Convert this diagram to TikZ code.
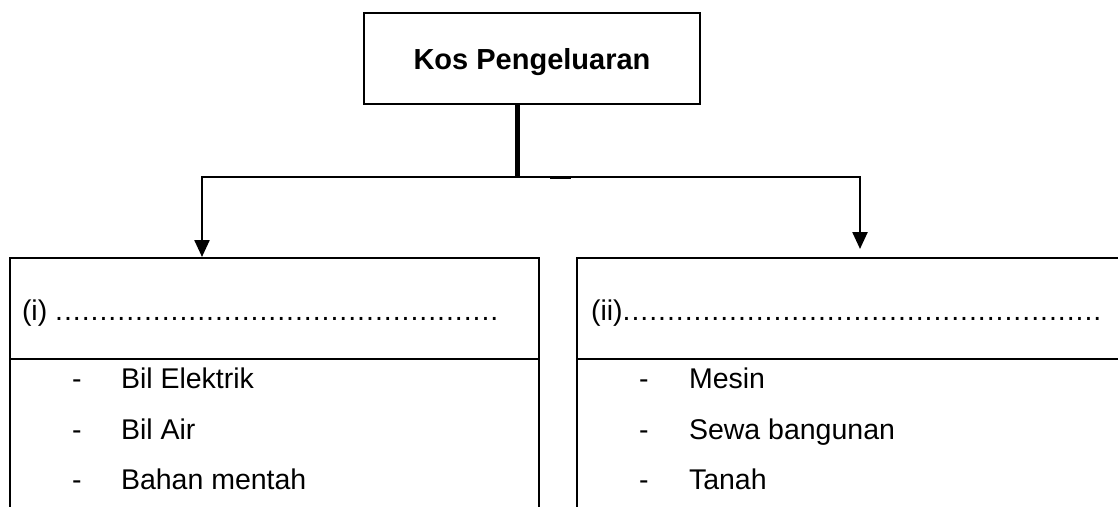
\documentclass[tikz,border=0pt]{standalone}
\usepackage{fontspec}
\setmainfont{Liberation Sans}
\usetikzlibrary{arrows.meta}

\newcommand{\titik}[1]{\foreach \k in {1,...,#1}{.\kern0.96pt}}

\begin{document}
\begin{tikzpicture}[x=1pt,y=1pt,line width=2pt,
  kotak/.style={draw,rectangle,inner sep=0pt},
  tajuk/.style={anchor=base west,inner sep=0pt,font=\fontsize{28.5}{34}\selectfont},
  butir/.style={anchor=base west,inner sep=0pt,font=\fontsize{28.5}{34}\selectfont},
  anak panah/.style={line width=2.4pt,-{Triangle[length=17pt,width=15pt]}}]
  \useasboundingbox (0,0) rectangle (1118,-506);
  \node[kotak, minimum width=336pt, minimum height=91pt, text depth=0pt,
    font=\fontsize{29}{34}\selectfont\bfseries] (kos) at (532,-58.5) {Kos Pengeluaran};
  \node[kotak, minimum width=529pt, minimum height=300pt, anchor=north west] (kiri) at (9,-257) {};
  \node[kotak, minimum width=560pt, minimum height=300pt, anchor=north west] (kanan) at (576,-257) {};
  \draw (kiri.west |- 0,-359) -- (kiri.east |- 0,-359);
  \draw (kanan.west |- 0,-359) -- (kanan.east |- 0,-359);
  \node[tajuk] (jenis1) at (21,-320) {(i) \titik{50}};
  \node[tajuk] (jenis2) at (590,-320) {(ii)\titik{54}};
  \foreach \teks/\y [count=\n] in {Bil Elektrik/388, Bil Air/439, Bahan mentah/489} {
    \node[butir] (sengkangkiri\n) at (71,-\y) {-};
    \node[butir] (kiri\n) at (120,-\y) {\teks};
  }
  \foreach \teks/\y [count=\n] in {Mesin/388, Sewa bangunan/439, Tanah/489} {
    \node[butir] (sengkangkanan\n) at (638,-\y) {-};
    \node[butir] (kanan\n) at (688,-\y) {\teks};
  }
  \coordinate (cabang) at (517,-177);
  \coordinate (hujungkanan) at (860,-249);
  \draw[line width=5pt] (kos.south -| cabang) -- (cabang);
  \draw[anak panah] (cabang) -| (kiri.north -| 202,0);
  \draw[anak panah] (cabang) -| (hujungkanan);
  \draw[line width=3pt] (550,-177) -- (571,-177);
\end{tikzpicture}
\end{document}
